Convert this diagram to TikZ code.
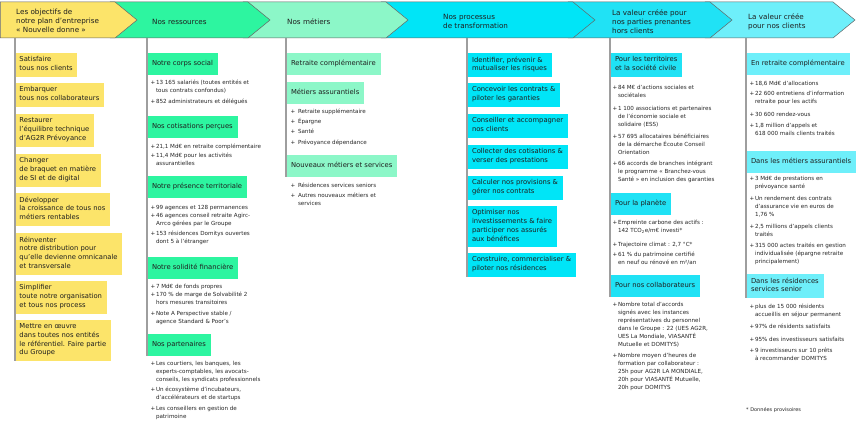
\documentclass[tikz,border=0pt]{standalone}
\usepackage{fontspec}
\setmainfont{DejaVu Sans}
\definecolor{cyel}{HTML}{FCE46A}
\definecolor{cgrn}{HTML}{2DF5A0}
\definecolor{clgr}{HTML}{8CF7C8}
\definecolor{ccya}{HTML}{00E5F7}
\definecolor{ccyb}{HTML}{20E2F5}
\definecolor{clcy}{HTML}{6EEFFA}
\definecolor{txt}{HTML}{1E1E1E}
\newcommand\labfont{\fontsize{6.8}{8.7}\selectfont}
\newcommand\bulfont{\fontsize{5.6}{8}\selectfont}
\newcommand\hdfont{\fontsize{7.2}{9}\selectfont}
\newcommand\notefont{\fontsize{5}{7}\selectfont}
\newcommand\bplus{\llap{+\hspace{0.6pt}}}
\newcommand\bplusw{\llap{+\hspace{2.6pt}}}
\begin{document}
\begin{tikzpicture}[x=1pt,y=-1pt,
  hdr/.style={draw=black!60, line width=0.5pt},
  htext/.style={anchor=west, inner sep=0pt, align=left, font=\hdfont, text=txt},
  lab/.style={anchor=north west, inner xsep=5pt, inner ysep=3.8pt, outer sep=0pt,
    minimum height=22pt, align=left, font=\labfont, text=txt,
    execute at begin node=\strut, execute at end node=\strut},
  ylab/.style={lab, fill=cyel, inner xsep=4.5pt},
  glab/.style={lab, fill=cgrn},
  mlab/.style={lab, fill=clgr},
  plab/.style={lab, fill=ccya},
  vlab/.style={lab, fill=ccyb},
  clab/.style={lab, fill=clcy},
  bul/.style={anchor=north west, inner sep=0pt, outer sep=0pt, align=left,
    font=\bulfont, text=black!85, execute at begin node=\strut},
  rail/.style={draw=black!38, line width=1.3pt},
]
\useasboundingbox (0,0) rectangle (860,430);
\fill[white] (0,0) rectangle (860,430);

% header chevrons (drawn right to left)
\path[hdr, fill=clcy] (705,2) -- (833,2) -- (855,20) -- (833,38) -- (705,38) -- cycle;
\path[hdr, fill=ccyb] (568,2) -- (710,2) -- (732,20) -- (710,38) -- (568,38) -- cycle;
\path[hdr, fill=ccya] (381,2) -- (573,2) -- (595,20) -- (573,38) -- (381,38) -- cycle;
\path[hdr, fill=clgr] (243,2) -- (386,2) -- (408,20) -- (386,38) -- (243,38) -- cycle;
\path[hdr, fill=cgrn] (110,2) -- (248,2) -- (270,20) -- (248,38) -- (110,38) -- cycle;
\path[hdr, fill=cyel] (0.3,2) -- (115,2) -- (137,20) -- (115,38) -- (0.3,38) -- cycle;

\node[htext] (h1) at (16,20.5) {Les objectifs de\\notre plan d'entreprise\\«~Nouvelle donne~»};
\node[htext] (h2) at (152,21.5) {Nos ressources};
\node[htext] (h3) at (287,21.5) {Nos métiers};
\node[htext] (h4) at (443,21.5) {Nos processus\\de transformation};
\node[htext] (h5) at (612,21.5) {La valeur créée pour\\nos parties prenantes\\hors clients};
\node[htext] (h6) at (748,21.5) {La valeur créée\\pour nos clients};

% column tops
\coordinate (r1) at (15,38);
\coordinate (r2) at (147,38);
\coordinate (r3) at (286,38);
\coordinate (r4) at (467,38);
\coordinate (r5) at (610,38);
\coordinate (r6) at (746,38);

% column 1
\node[ylab] (y1) at (15,53) {Satisfaire\\tous nos clients};
\node[ylab] (y2) at (15,83) {Embarquer\\tous nos collaborateurs};
\node[ylab] (y3) at (15,114) {Restaurer\\l'équilibre technique\\d'AG2R Prévoyance};
\node[ylab] (y4) at (15,154) {Changer\\de braquet en matière\\de SI et de digital};
\node[ylab] (y5) at (15,193) {Développer\\la croissance de tous nos\\métiers rentables};
\node[ylab] (y6) at (15,233) {Réinventer\\notre distribution pour\\qu'elle devienne omnicanale\\et transversale};
\node[ylab] (y7) at (15,281) {Simplifier\\toute notre organisation\\et tous nos process};
\node[ylab] (y8) at (15,320) {Mettre en œuvre\\dans toutes nos entités\\le référentiel. Faire partie\\du Groupe};

% column 2
\node[glab] (g1) at (147,53) {Notre corps social};
\node[bul] (bA) at (156,80) {\bplus 13 165 salariés (toutes entités et\\tous contrats confondus)};
\node[bul] (bB) at (156,98) {\bplus 852 administrateurs et délégués};
\node[glab] (g2) at (147,116) {Nos cotisations perçues};
\node[bul] (bC) at (156,143) {\bplus 21,1 Md€ en retraite complémentaire};
\node[bul] (bD) at (156,153) {\bplus 11,4 Md€ pour les activités\\assurantielles};
\node[glab] (g3) at (147,176) {Notre présence territoriale};
\node[bul] (bE) at (156,204) {\bplus 99 agences et 128 permanences};
\node[bul] (bF) at (156,213) {\bplus 46 agences conseil retraite Agirc-\\Arrco gérées par le Groupe};
\node[bul] (bG) at (156,231) {\bplus 153 résidences Domitys ouvertes\\dont 5 à l'étranger};
\node[glab] (g4) at (147,257) {Notre solidité financière};
\node[bul] (bH) at (156,283) {\bplus 7 Md€ de fonds propres};
\node[bul] (bI) at (156,292) {\bplus 170 \% de marge de Solvabilité 2\\hors mesures transitoires};
\node[bul] (bJ) at (156,311) {\bplus Note A Perspective stable /\\agence Standard \& Poor's};
\node[glab] (g5) at (147,334) {Nos partenaires};
\node[bul] (bK) at (156,361) {\bplus Les courtiers, les banques, les\\experts-comptables, les avocats-\\conseils, les syndicats professionnels};
\node[bul] (bL) at (156,387) {\bplus Un écosystème d'incubateurs,\\d'accélérateurs et de startups};
\node[bul] (bM) at (156,406) {\bplus Les conseillers en gestion de\\patrimoine};

% column 3
\node[mlab] (m1) at (286,53) {Retraite complémentaire};
\node[mlab] (m2) at (286,82) {Métiers assurantiels};
\node[bul] (mA) at (298,108) {\bplusw Retraite supplémentaire};
\node[bul] (mB) at (298,118) {\bplusw Épargne};
\node[bul] (mC) at (298,128) {\bplusw Santé};
\node[bul] (mD) at (298,139) {\bplusw Prévoyance dépendance};
\node[mlab] (m3) at (286,155) {Nouveaux métiers et services};
\node[bul] (mE) at (298,182) {\bplusw Résidences services seniors};
\node[bul] (mF) at (298,193) {\bplusw Autres nouveaux métiers et\\services};

% column 4
\node[plab] (p1) at (467,53) {Identifier, prévenir \&\\mutualiser les risques};
\node[plab] (p2) at (467,83) {Concevoir les contrats \&\\piloter les garanties};
\node[plab] (p3) at (467,114) {Conseiller et accompagner\\nos clients};
\node[plab] (p4) at (467,145) {Collecter des cotisations \&\\verser des prestations};
\node[plab] (p5) at (467,176) {Calculer nos provisions \&\\gérer nos contrats};
\node[plab] (p6) at (467,206) {Optimiser nos\\investissements \& faire\\participer nos assurés\\aux bénéfices};
\node[plab] (p7) at (467,253) {Construire, commercialiser \&\\piloter nos résidences};

% column 5
\node[vlab] (v1) at (610,53) {Pour les territoires\\et la société civile};
\node[bul] (vA) at (618,85) {\bplus 84 M€ d'actions sociales et\\sociétales};
\node[bul] (vB) at (618,106) {\bplus 1 100 associations et partenaires\\de l'économie sociale et\\solidaire (ESS)};
\node[bul] (vC) at (618,134) {\bplus 57 695 allocataires bénéficiaires\\de la démarche Écoute Conseil\\Orientation};
\node[bul] (vD) at (618,161) {\bplus 66 accords de branches intégrant\\le programme «~Branchez-vous\\Santé~» en inclusion des garanties};
\node[vlab] (v2) at (610,193) {Pour la planète};
\node[bul] (vE) at (618,220) {\bplus Empreinte carbone des actifs :\\142 TCO\textsubscript{2}e/m€ investi*};
\node[bul] (vF) at (618,241) {\bplus Trajectoire climat : 2,7 °C*};
\node[bul] (vG) at (618,252) {\bplus 61 \% du patrimoine certifié\\en neuf ou rénové en m²/an};
\node[vlab] (v3) at (610,275) {Pour nos collaborateurs};
\node[bul] (vH) at (618,302) {\bplus Nombre total d'accords\\signés avec les instances\\représentatives du personnel\\dans le Groupe : 22 (UES AG2R,\\UES La Mondiale, VIASANTÉ\\Mutuelle et DOMITYS)};
\node[bul] (vI) at (618,353) {\bplus Nombre moyen d'heures de\\formation par collaborateur :\\25h pour AG2R LA MONDIALE,\\20h pour VIASANTÉ Mutuelle,\\20h pour DOMITYS};

% column 6
\node[clab] (c1) at (746,53) {En retraite complémentaire};
\node[bul] (cA) at (755,80) {\bplus 18,6 Md€ d'allocations};
\node[bul] (cB) at (755,91) {\bplus 22 600 entretiens d'information\\retraite pour les actifs};
\node[bul] (cC) at (755,111) {\bplus 30 600 rendez-vous};
\node[bul] (cD) at (755,123) {\bplus 1,8 million d'appels et\\618 000 mails clients traités};
\node[clab] (c2) at (746,151) {Dans les métiers assurantiels};
\node[bul] (cE) at (755,176) {\bplus 3 Md€ de prestations en\\prévoyance santé};
\node[bul] (cF) at (755,196) {\bplus Un rendement des contrats\\d'assurance vie en euros de\\1,76 \%};
\node[bul] (cG) at (755,224) {\bplus 2,5 millions d'appels clients\\traités};
\node[bul] (cH) at (755,243) {\bplus 315 000 actes traités en gestion\\individualisée (épargne retraite\\principalement)};
\node[clab] (c3) at (746,274) {Dans les résidences\\services senior};
\node[bul] (cI) at (755,304) {\bplus plus de 15 000 résidents\\accueillis en séjour permanent};
\node[bul] (cJ) at (755,323) {\bplus 97\% de résidents satisfaits};
\node[bul] (cK) at (755,336) {\bplus 95\% des investisseurs satisfaits};
\node[bul] (cL) at (755,348) {\bplus 9 investisseurs sur 10 prêts\\à recommander DOMITYS};
\node[anchor=west, inner sep=0pt, font=\notefont, text=black!85] (note) at (746,410) {* Données provisoires};

% rails
\draw[rail] (r1) -- (y8.south west);
\draw[rail] (r2) -- (g5.south west);
\draw[rail] (r3) -- (m3.south west);
\draw[rail] (r4) -- (p7.south west);
\draw[rail] (r5) -- (v3.south west);
\draw[rail] (r6) -- (c3.south west);
\end{tikzpicture}
\end{document}
